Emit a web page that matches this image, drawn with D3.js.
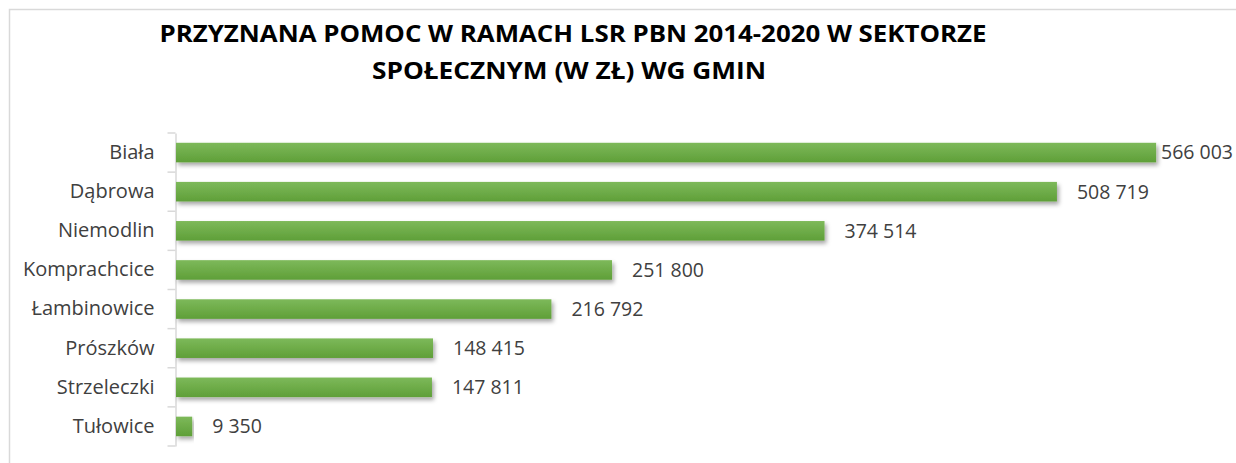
<!DOCTYPE html>
<html>
<head>
<meta charset="utf-8">
<script src="https://cdn.jsdelivr.net/npm/d3@7"></script>
<style>
  html, body { margin: 0; padding: 0; background: #fff; }
  svg { display: block; }
</style>
</head>
<body>
<svg id="chart" width="1236" height="463"></svg>
<script>
// data
const categories = ['Biała', 'Dąbrowa', 'Niemodlin', 'Komprachcice', 'Łambinowice', 'Prószków', 'Strzeleczki', 'Tułowice'];
const values = [566003, 508719, 374514, 251800, 216792, 148415, 147811, 9350];
const titleLines = ['PRZYZNANA POMOC W RAMACH LSR PBN 2014-2020 W SEKTORZE', 'SPOŁECZNYM (W ZŁ) WG GMIN'];

const style = {
  fontFamily: '"Open Sans", "DejaVu Sans", sans-serif',
  textColor: '#404040',
  axisColor: '#d9d9d9',
  borderColor: '#d9d9d9',
  barTop: '#7db95a',
  barBottom: '#5f9f38',
  labelSize: '20px',
  valueSize: '19.5px',
}

const data = categories.map((c, i) => ({ name: c, value: values[i] }));

const svg = d3.select('#chart');

const margin = { top: 133, left: 176, bottom: 446 };

// chart area border (only top and left edges are inside the picture)
svg.append('rect')
  .attr('x', 9.5).attr('y', 9.5)
  .attr('width', 1400).attr('height', 600)
  .attr('fill', 'none')
  .attr('stroke', style.borderColor)
  .attr('stroke-width', 1.5);

const defs = svg.append('defs');
const grad = defs.append('linearGradient')
  .attr('id', 'barGrad')
  .attr('x1', 0).attr('y1', 0).attr('x2', 0).attr('y2', 1);
grad.append('stop').attr('offset', '0%').attr('stop-color', style.barTop);
grad.append('stop').attr('offset', '100%').attr('stop-color', style.barBottom);

const shadow = defs.append('filter')
  .attr('id', 'shadow')
  .attr('x', '-5%').attr('y', '-40%')
  .attr('width', '115%').attr('height', '200%');
shadow.append('feDropShadow')
  .attr('dx', 2).attr('dy', 3)
  .attr('stdDeviation', 2)
  .attr('flood-color', '#000')
  .attr('flood-opacity', 0.35);

const xScale = d3.scaleLinear()
  .domain([0, 600000])
  .range([margin.left, 1215]);

const yScale = d3.scaleBand()
  .domain(categories)
  .range([margin.top, margin.bottom])
  .paddingInner(0.5)
  .paddingOuter(0.25);

// title
const title = svg.append('g').attr('class', 'title');
title.selectAll('text')
  .data(titleLines)
  .enter()
  .append('text')
    .attr('x', (d, i) => i === 0 ? 573 : 569)
    .attr('y', (d, i) => i === 0 ? 42 : 79)
    .attr('text-anchor', 'middle')
    .attr('font-family', style.fontFamily)
    .attr('font-weight', 'bold')
    .attr('font-size', '24px')
    .attr('fill', '#000')
    .attr('textLength', (d, i) => i === 0 ? 827 : 394)
    .attr('lengthAdjust', 'spacingAndGlyphs')
    .text(d => d);

// y axis
const yAxis = d3.axisLeft(yScale).tickSize(0).tickPadding(21);
const yAxisSel = svg.append('g')
  .attr('class', 'y-axis')
  .attr('transform', `translate(${margin.left - 0.5}, 0)`)
  .call(yAxis);

yAxisSel.select('.domain')
  .attr('stroke', style.axisColor)
  .attr('stroke-width', 1.5);

yAxisSel.selectAll('.tick text')
  .attr('fill', style.textColor)
  .style('font-size', style.labelSize)
  .style('font-family', style.fontFamily);

// tick marks sit on the category boundaries
const step = yScale.step();
const bounds = d3.range(categories.length + 1).map(i => margin.top + i * step);
yAxisSel.selectAll('line.bound')
  .data(bounds)
  .enter()
  .append('line')
    .attr('class', 'bound')
    .attr('x1', -8).attr('x2', 0)
    .attr('y1', d => d).attr('y2', d => d)
    .attr('stroke', style.axisColor)
    .attr('stroke-width', 1.5);

// bars
svg.append('g').attr('class', 'bars')
  .selectAll('rect')
  .data(data)
  .enter()
  .append('rect')
    .attr('x', xScale(0))
    .attr('y', d => yScale(d.name))
    .attr('width', d => xScale(d.value) - xScale(0))
    .attr('height', yScale.bandwidth())
    .attr('fill', 'url(#barGrad)')
    .attr('filter', 'url(#shadow)');

// value labels
const fmt = v => d3.format(',')(v).replace(/,/g, ' ');
const labels = svg.append('g').attr('class', 'labels')
  .selectAll('text')
  .data(data)
  .enter()
  .append('text')
    .attr('y', d => yScale(d.name) + yScale.bandwidth() / 2)
    .attr('dy', '0.35em')
    .attr('fill', style.textColor)
    .style('font-size', style.valueSize)
    .style('font-family', style.fontFamily)
    .text(d => fmt(d.value));

labels.each(function(d) {
  const w = this.getComputedTextLength();
  const x = Math.min(xScale(d.value) + 20, 1233 - w);
  d3.select(this).attr('x', x);
});
</script>
</body>
</html>
